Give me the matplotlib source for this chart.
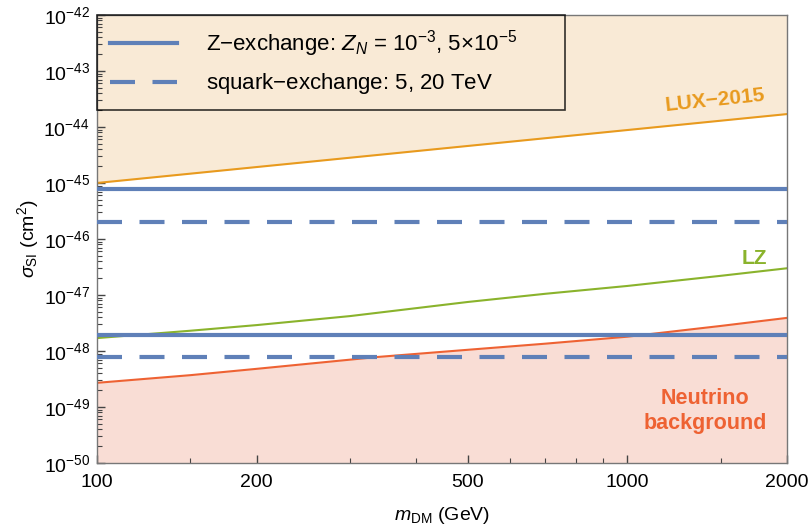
import numpy as np
import matplotlib.pyplot as plt
from matplotlib.ticker import FixedLocator, NullFormatter, LogLocator, LogFormatterSciNotation

plt.rcParams['font.family'] = ['Liberation Sans', 'DejaVu Sans']
plt.rcParams['mathtext.fontset'] = 'custom'
plt.rcParams['mathtext.rm'] = 'Liberation Sans'
plt.rcParams['mathtext.it'] = 'Liberation Sans:italic'
plt.rcParams['mathtext.bf'] = 'Liberation Sans:bold'

# dark matter mass (GeV)
m_lux = [100, 2000]
sigma_lux = [1.0e-45, 1.7e-44]

m_lz = [100, 150, 200, 300, 500, 700, 1000, 1500, 2000]
sigma_lz = [1.7e-48, 2.3e-48, 2.9e-48, 4.2e-48, 7.5e-48, 1.05e-47, 1.45e-47, 2.2e-47, 3.0e-47]

m_nu = [100, 150, 200, 337, 500, 700, 1000, 1500, 2000]
sigma_nu = [2.7e-49, 3.7e-49, 4.8e-49, 7.8e-49, 1.05e-48, 1.35e-48, 1.8e-48, 2.8e-48, 3.9e-48]

# model predictions (flat in mass)
sigma_z = [7.8e-46, 1.95e-48]        # Z_N = 1e-3, 5e-5
sigma_squark = [2.0e-46, 7.8e-49]    # 5, 20 TeV

x_major = [100, 200, 500, 1000, 2000]
x_minor = [150, 300, 400, 600, 700, 800, 900, 1500]

c_lux = '#E89A1E'
c_lz = '#8AB32C'
c_nu = '#EE6233'
c_blue = '#5F80B8'

fig = plt.figure(figsize=(8.11, 5.26), dpi=100)
ax = fig.add_axes([0.1196, 0.1198, 0.8508, 0.8517])
ax.set_xscale('log')
ax.set_yscale('log')
ax.set_xlim(100, 2000)
ax.set_ylim(1e-50, 1e-42)

# excluded / background regions
ax.fill_between(m_lux, sigma_lux, 1e-42, color='#F9EAD6', lw=0, zorder=0)
ax.fill_between(m_nu, 1e-50, sigma_nu, color='#F9DDD5', lw=0, zorder=0)
ax.plot(m_lux, sigma_lux, color=c_lux, lw=1.5, zorder=2)
ax.plot(m_lz, sigma_lz, color=c_lz, lw=1.5, zorder=2)
ax.plot(m_nu, sigma_nu, color=c_nu, lw=1.5, zorder=2)

xr = [100, 2000]
for i, s in enumerate(sigma_z):
    ax.plot(xr, [s, s], color=c_blue, lw=3, zorder=3,
            label=r'Z$-$exchange: $Z_N$ = 10$^{-3}$, 5$\times$10$^{-5}$' if i == 0 else None)
for i, s in enumerate(sigma_squark):
    ax.plot(xr, [s, s], color=c_blue, lw=3, zorder=3, dashes=(6, 4.2),
            label=r'squark$-$exchange: 5, 20 TeV' if i == 0 else None)

ax.text(1466, 3.0e-44, 'LUX\u22122015', color=c_lux, fontsize=15, fontweight='bold',
        ha='center', va='center', rotation=6)
ax.text(1738, 4.4e-47, 'LZ', color=c_lz, fontsize=15, fontweight='bold',
        ha='center', va='center')
ax.text(1400, 8.5e-50, 'Neutrino\nbackground', color=c_nu, fontsize=15.5, fontweight='bold',
        ha='center', va='center', linespacing=1.2)

leg = ax.legend(loc='upper left', bbox_to_anchor=(0, 0, 0.678, 1), mode='expand',
                borderaxespad=0, fontsize=16, frameon=True, fancybox=False,
                handlelength=3.0, handletextpad=1.3, labelspacing=0.55, borderpad=0.6)
leg.get_frame().set_edgecolor('black')
leg.get_frame().set_facecolor('none')
leg.get_frame().set_linewidth(1.2)

ax.xaxis.set_major_locator(FixedLocator(x_major))
ax.xaxis.set_minor_locator(FixedLocator(x_minor))
ax.xaxis.set_major_formatter(plt.FuncFormatter(lambda v, p: f'{int(v)}'))
ax.xaxis.set_minor_formatter(NullFormatter())
ax.yaxis.set_major_locator(LogLocator(base=10, numticks=20))
ax.yaxis.set_minor_locator(LogLocator(base=10, subs=np.arange(2, 10), numticks=20))
ax.yaxis.set_major_formatter(LogFormatterSciNotation())
ax.yaxis.set_minor_formatter(NullFormatter())

ax.tick_params(which='both', direction='in', top=False, right=False, labelsize=14,
               color='#444444')
ax.tick_params(which='major', length=6, width=1, pad=5)
ax.tick_params(axis='x', which='major', pad=8)
ax.tick_params(which='minor', length=3.5, width=0.8)
for sp in ax.spines.values():
    sp.set_color('#777777')
    sp.set_linewidth(1)

ax.set_xlabel(r'$m_{\rm DM}$ (GeV)', fontsize=14, labelpad=10)
ax.set_ylabel(r'$\sigma_{\rm SI}$ (cm$^2$)', fontsize=14, labelpad=2)

fig.savefig('out.png', dpi=100)
